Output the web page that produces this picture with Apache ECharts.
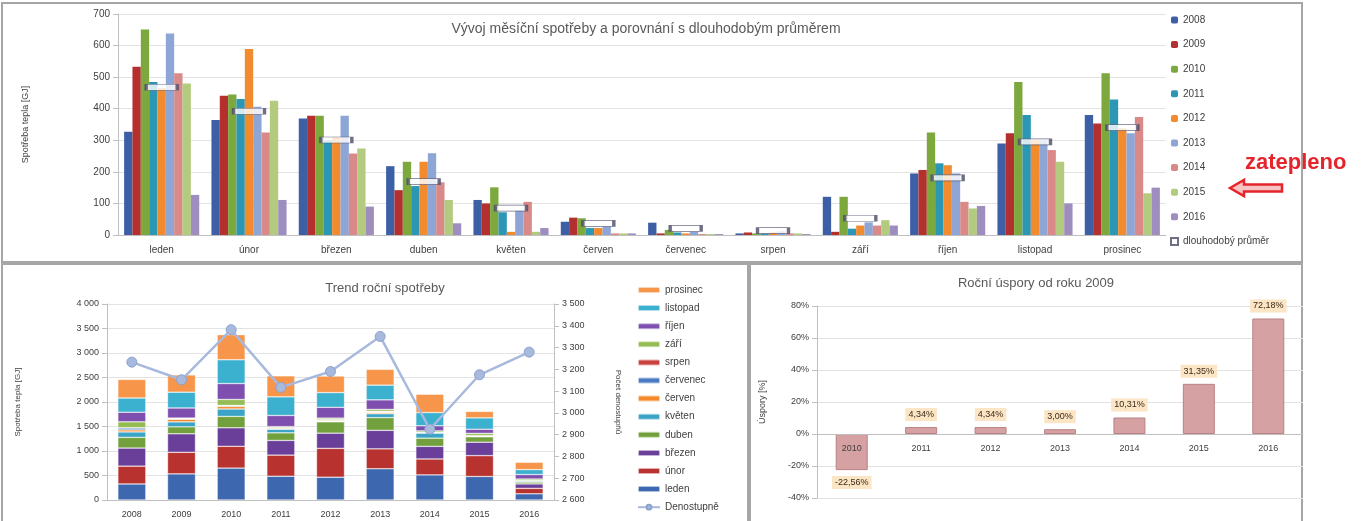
<!DOCTYPE html>
<html>
<head>
<meta charset="utf-8">
<script src="https://cdn.jsdelivr.net/npm/echarts@6/dist/echarts.min.js"></script>
<style>
  html, body { margin: 0; padding: 0; background: #fff; }
</style>
</head>
<body>
<div id="main" style="width: 1365px;height:521px;"></div>
<script type="text/javascript">
    // kategorie
    var months = ['leden', 'únor', 'březen', 'duben', 'květen', 'červen', 'červenec', 'srpen', 'září', 'říjen', 'listopad', 'prosinec'];
    var years = ['2008', '2009', '2010', '2011', '2012', '2013', '2014', '2015', '2016'];
    var savYears = ['2010', '2011', '2012', '2013', '2014', '2015', '2016'];

    // měsíční spotřeba tepla [GJ] po letech
    var s2008 = [327, 364, 369, 218, 111, 42, 39, 5, 121, 195, 290, 380];
    var s2009 = [533, 441, 378, 142, 100, 55, 5, 8, 10, 206, 322, 353];
    var s2010 = [651, 445, 378, 232, 151, 53, 16, 5, 121, 325, 485, 512];
    var s2011 = [485, 431, 300, 155, 72, 22, 8, 5, 20, 227, 380, 429];
    var s2012 = [465, 589, 310, 232, 10, 22, 5, 8, 30, 221, 300, 338];
    var s2013 = [638, 406, 378, 259, 79, 27, 10, 12, 40, 195, 300, 322];
    var s2014 = [512, 325, 258, 167, 105, 5, 3, 5, 30, 105, 269, 374];
    var s2015 = [480, 425, 274, 111, 10, 5, 3, 5, 47, 84, 232, 132];
    var s2016 = [127, 111, 90, 37, 22, 5, 3, 3, 30, 92, 100, 150];
    var avgLong = [468, 392, 301, 169, 85, 37, 21, 14, 53, 181, 295, 340];

    // denostupně a úspory
    var degreeDays = [3233, 3152, 3382, 3117, 3190, 3351, 2925, 3175, 3279];
    var savings = [-22.56, 4.34, 4.34, 3.00, 10.31, 31.35, 72.18];

    var yearData = [s2008, s2009, s2010, s2011, s2012, s2013, s2014, s2015, s2016];
    var yearColors = ['#3C5FA6', '#B3302E', '#7CA83E', '#2C97B5', '#F28A2E', '#8DA6D6', '#D98A88', '#B3CB7E', '#9E8DBF'];
    var monthColors = ['#3D67AE', '#B8332F', '#6A3F9A', '#71A03C', '#3AA3C6', '#F58A2C', '#4A7AC2', '#C9413F', '#95BC52', '#7E4FAE', '#3BB0CF', '#F7964A'];

    function thousands(v) {
        return String(v).replace(/\B(?=(\d{3})+(?!\d))/g, ' ');
    }

    var axisText = {color: '#404040', fontSize: 10, fontFamily: 'Liberation Sans'};
    var greyLine = {lineStyle: {color: '#BFBFBF'}};
    var split = {lineStyle: {color: '#E3E3E3'}};

    var series = [];
    // horní graf - sloupce po letech
    for (var i = 0; i < years.length; i++) {
        series.push({
            name: years[i],
            type: 'bar',
            xAxisIndex: 0,
            yAxisIndex: 0,
            barGap: '0%',
            barCategoryGap: '14%',
            itemStyle: {color: yearColors[i]},
            data: yearData[i]
        });
    }
    series.push({
        name: 'dlouhodobý průměr',
        type: 'scatter',
        xAxisIndex: 0,
        yAxisIndex: 0,
        symbol: 'rect',
        symbolSize: [31, 6],
        z: 5,
        itemStyle: {color: '#fff', borderColor: '#4A4A66', borderWidth: 1.5},
        data: avgLong
    });
    // dolní levý graf - skládané sloupce po měsících
    for (var m = 0; m < months.length; m++) {
        series.push({
            name: months[m],
            type: 'bar',
            stack: 'rok',
            xAxisIndex: 1,
            yAxisIndex: 1,
            barWidth: 28,
            itemStyle: {color: monthColors[m], borderColor: 'rgba(255,255,255,0.6)', borderWidth: 0.6},
            data: yearData.map(function (d) { return d[m]; })
        });
    }
    series.push({
        name: 'Denostupně',
        type: 'line',
        xAxisIndex: 1,
        yAxisIndex: 2,
        symbol: 'circle',
        symbolSize: 10,
        z: 5,
        lineStyle: {color: '#A8B9DE', width: 2.5},
        itemStyle: {color: '#A8B9DE', borderColor: '#8EA2CE', borderWidth: 1},
        data: degreeDays
    });
    // dolní pravý graf - úspory
    series.push({
        name: 'Úspory',
        type: 'bar',
        xAxisIndex: 2,
        yAxisIndex: 3,
        barWidth: 32,
        itemStyle: {color: '#D6A1A3', borderColor: '#B98284', borderWidth: 1},
        label: {
            show: true,
            position: 'outside',
            distance: 6,
            fontSize: 9,
            fontFamily: 'Liberation Sans',
            color: '#3A2A1A',
            backgroundColor: '#FCE5C4',
            padding: [2, 3],
            formatter: function (p) { return p.value.toFixed(2).replace('.', ',') + '%'; }
        },
        data: savings
    });

    var option = {
        animation: false,
        backgroundColor: '#fff',
        title: [
            {text: 'Vývoj měsíční spotřeby a porovnání s dlouhodobým průměrem', left: 641, top: 17, textAlign: 'center',
                textStyle: {color: '#595959', fontSize: 14, fontWeight: 'normal', fontFamily: 'Liberation Sans'}},
            {text: 'Trend roční spotřeby', left: 380, top: 277, textAlign: 'center',
                textStyle: {color: '#595959', fontSize: 13, fontWeight: 'normal', fontFamily: 'Liberation Sans'}},
            {text: 'Roční úspory od roku 2009', left: 1031, top: 272, textAlign: 'center',
                textStyle: {color: '#595959', fontSize: 13, fontWeight: 'normal', fontFamily: 'Liberation Sans'}}
        ],
        legend: [
            {
                orient: 'vertical', left: 1170, top: 14, padding: 0,
                itemWidth: 7, itemHeight: 7, itemGap: 12.6,
                textStyle: {color: '#404040', fontSize: 10, lineHeight: 12, fontFamily: 'Liberation Sans'},
                data: years.concat(['dlouhodobý průměr'])
            },
            {
                orient: 'vertical', left: 637, top: 284, padding: 0,
                itemWidth: 22, itemHeight: 6, itemGap: 6.1,
                textStyle: {color: '#404040', fontSize: 10, lineHeight: 12, fontFamily: 'Liberation Sans'},
                data: months.slice().reverse().concat(['Denostupně'])
            }
        ],
        grid: [
            {left: 118, top: 14, width: 1048, height: 221},
            {left: 107, top: 304, width: 447, height: 196},
            {left: 817, top: 306, width: 486, height: 192}
        ],
        xAxis: [
            {type: 'category', gridIndex: 0, data: months, axisLine: greyLine, axisTick: greyLine,
                axisLabel: Object.assign({margin: 10}, axisText)},
            {type: 'category', gridIndex: 1, data: years, axisLine: greyLine, axisTick: greyLine,
                axisLabel: Object.assign({margin: 10}, axisText, {fontSize: 9})},
            // osa na nule: posun nahoru o 40/120 výšky gridu
            {type: 'category', gridIndex: 2, data: savYears, z: 4, offset: -64,
                axisLine: {onZero: false, lineStyle: {color: '#BFBFBF'}}, axisTick: greyLine,
                axisLabel: Object.assign({margin: 10}, axisText, {fontSize: 9})}
        ],
        yAxis: [
            {type: 'value', gridIndex: 0, min: 0, max: 700, interval: 100,
                name: 'Spotřeba tepla [GJ]', nameLocation: 'middle', nameGap: 88,
                nameTextStyle: {color: '#404040', fontSize: 9, fontFamily: 'Liberation Sans'},
                axisLine: {show: true, lineStyle: {color: '#BFBFBF'}}, axisTick: {show: true, lineStyle: {color: '#BFBFBF'}},
                splitLine: split, axisLabel: axisText},
            {type: 'value', gridIndex: 1, min: 0, max: 4000, interval: 500,
                name: 'Spotřeba tepla [GJ]', nameLocation: 'middle', nameGap: 85,
                nameTextStyle: {color: '#404040', fontSize: 8, fontFamily: 'Liberation Sans'},
                axisLine: {show: true, lineStyle: {color: '#BFBFBF'}}, axisTick: {show: true, lineStyle: {color: '#BFBFBF'}},
                splitLine: split, axisLabel: Object.assign({formatter: thousands}, axisText, {fontSize: 9})},
            {type: 'value', gridIndex: 1, position: 'right', min: 2600, max: 3500, interval: 100,
                name: 'Počet denostupňů', nameLocation: 'middle', nameGap: 60, nameRotate: -90,
                nameTextStyle: {color: '#404040', fontSize: 8, fontFamily: 'Liberation Sans'},
                axisLine: {show: true, lineStyle: {color: '#BFBFBF'}}, axisTick: {show: true, lineStyle: {color: '#BFBFBF'}},
                splitLine: {show: false}, axisLabel: Object.assign({formatter: thousands}, axisText, {fontSize: 9})},
            {type: 'value', gridIndex: 2, min: -40, max: 80, interval: 20,
                name: 'Úspory [%]', nameLocation: 'middle', nameGap: 50,
                nameTextStyle: {color: '#404040', fontSize: 9, fontFamily: 'Liberation Sans'},
                axisLine: {show: true, lineStyle: {color: '#BFBFBF'}}, axisTick: {show: true, lineStyle: {color: '#BFBFBF'}},
                splitLine: split, axisLabel: Object.assign({formatter: '{value}%'}, axisText, {fontSize: 9})}
        ],
        graphic: [
            // rámečky panelů
            {type: 'rect', shape: {x: 2, y: 3, width: 1300, height: 259}, style: {fill: null, stroke: '#A6A6A6', lineWidth: 2}},
            {type: 'rect', shape: {x: 2, y: 264, width: 746, height: 262}, style: {fill: null, stroke: '#A6A6A6', lineWidth: 2}},
            {type: 'rect', shape: {x: 750, y: 264, width: 552, height: 262}, style: {fill: null, stroke: '#A6A6A6', lineWidth: 2}},
            // poznámka
            {type: 'text', left: 1245, top: 152, style: {text: 'zatepleno', fill: '#E5242B', font: 'bold 22px "Liberation Sans"'}},
            {type: 'polygon', shape: {points: [[1230, 188], [1244, 180], [1244, 184.5], [1282, 184.5], [1282, 191.5], [1244, 191.5], [1244, 196]]},
                style: {fill: '#F7C4C4', stroke: '#E5242B', lineWidth: 2.5}}
        ],
        series: series
    };

    var myChart = echarts.init(document.getElementById('main'));
    myChart.setOption(option);
</script>
</body>
</html>
